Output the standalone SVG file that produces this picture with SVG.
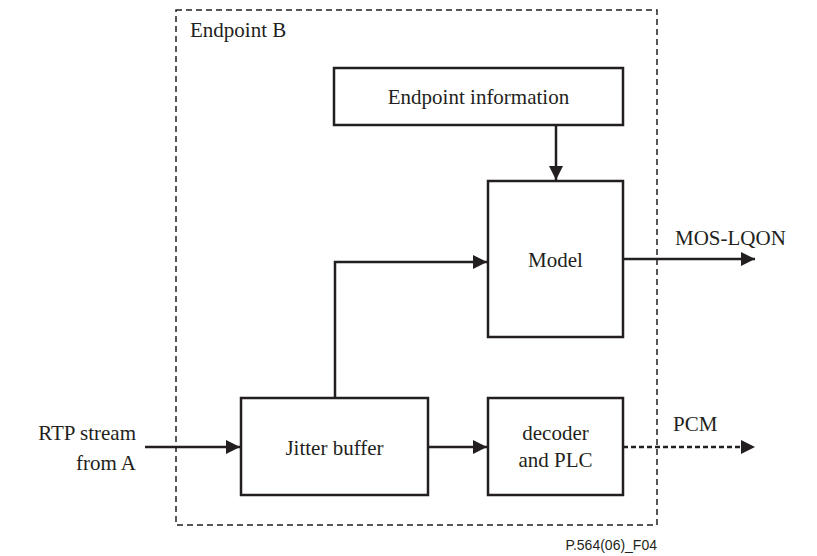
<svg xmlns="http://www.w3.org/2000/svg" width="817" height="556" viewBox="0 0 817 556">
  <style>
    .box { fill: #fff; stroke: #231f20; stroke-width: 2.5; }
    .lbl { font-family: "Liberation Serif", "Times New Roman", Times, serif; font-size: 21px; fill: #231f20; }
    .mid { text-anchor: middle; }
    .end { text-anchor: end; }
    .wire { fill: none; stroke: #231f20; stroke-width: 2.5; }
    .tag { font-family: "Liberation Sans", Arial, sans-serif; font-size: 14px; fill: #231f20; }
  </style>
  <defs>
    <marker id="arrL" markerWidth="14" markerHeight="14" refX="14" refY="7" orient="auto" markerUnits="userSpaceOnUse" viewBox="0 0 14 14">
      <path d="M0,0 L14,7 L0,14 z" fill="#231f20"/>
    </marker>
  </defs>

  <!-- Endpoint B boundary -->
  <g id="endpoint-b">
    <rect x="176" y="10" width="481" height="515" fill="none" stroke="#231f20" stroke-width="1.5" stroke-dasharray="6,4"/>
    <text class="lbl" x="190" y="37">Endpoint B</text>
  </g>

  <g id="endpoint-info">
    <rect class="box" x="334" y="68" width="289" height="57"/>
    <text class="lbl mid" x="478.5" y="104">Endpoint information</text>
  </g>

  <g id="model">
    <rect class="box" x="488" y="181" width="135" height="156"/>
    <text class="lbl mid" x="555.5" y="267">Model</text>
  </g>

  <g id="jitter-buffer">
    <rect class="box" x="241" y="398" width="187" height="97"/>
    <text class="lbl mid" x="334.5" y="455">Jitter buffer</text>
  </g>

  <g id="decoder">
    <rect class="box" x="488" y="398" width="135" height="97"/>
    <text class="lbl mid" x="555.5" y="440">decoder</text>
    <text class="lbl mid" x="555.5" y="467">and PLC</text>
  </g>

  <g id="connectors">
    <path class="wire" d="M556,125 V180" marker-end="url(#arrL)"/>
    <path class="wire" d="M335,398 V262 H487" marker-end="url(#arrL)"/>
    <path class="wire" d="M623,259 H755" marker-end="url(#arrL)"/>
    <path class="wire" d="M145,447 H240" marker-end="url(#arrL)"/>
    <path class="wire" d="M428,447 H487" marker-end="url(#arrL)"/>
    <!-- dotted PCM output with a separate solid head -->
    <path class="wire" d="M623,447 H742" stroke-dasharray="5,3"/>
    <path d="M741,440 L755,447 L741,454 z" fill="#231f20"/>
  </g>

  <g id="labels">
    <text class="lbl" x="675" y="245">MOS-LQON</text>
    <text class="lbl" x="673" y="431">PCM</text>
    <text class="lbl end" x="136" y="440">RTP stream</text>
    <text class="lbl end" x="136" y="470">from A</text>
    <text class="tag end" x="657" y="550">P.564(06)_F04</text>
  </g>
</svg>
